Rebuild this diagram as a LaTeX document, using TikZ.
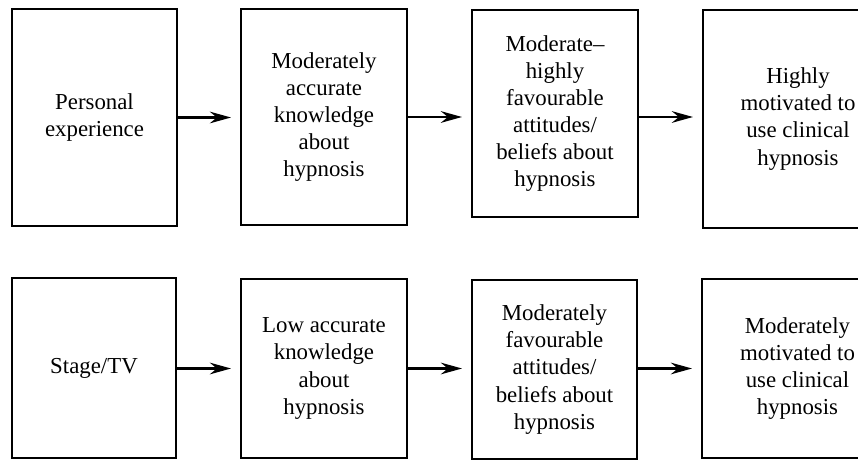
\documentclass[tikz,border=0pt]{standalone}
\usepackage{fontspec}
\setmainfont{Liberation Serif}
\usetikzlibrary{arrows.meta}
\tikzset{
  stagebox/.style={draw, line width=1.1pt, inner sep=0pt, align=center,
    font=\fontsize{13}{15.4}\selectfont},
  flow/.style={line width=1.7pt, -{Stealth[length=4.2mm,width=2.3mm]}, shorten >=1.8mm}
}
\begin{document}
\begin{tikzpicture}[scale=1]
\clip (0,0) rectangle (17.16,9.2);
% personal experience route
\node[stagebox, minimum width=3.30cm, minimum height=4.34cm] at (1.89, 6.85) (p1) {Personal\\experience};
\node[stagebox, minimum width=3.32cm, minimum height=4.32cm] at (6.48, 6.86) (p2) {Moderately\\accurate\\knowledge\\about\\hypnosis};
\node[stagebox, minimum width=3.32cm, minimum height=4.14cm] at (11.10, 6.93) (p3) {Moderate--\\highly\\favourable\\attitudes/\\beliefs about\\hypnosis};
\node[stagebox, minimum width=3.80cm, minimum height=4.36cm] at (15.96, 6.82) (p4) {Highly\\motivated to\\use clinical\\hypnosis};
% stage/TV route
\node[stagebox, minimum width=3.28cm, minimum height=3.60cm] at (1.88, 1.84) (s1) {Stage/TV};
\node[stagebox, minimum width=3.32cm, minimum height=3.58cm] at (6.48, 1.83) (s2) {Low accurate\\knowledge\\about\\hypnosis};
\node[stagebox, minimum width=3.30cm, minimum height=3.58cm] at (11.09, 1.81) (s3) {Moderately\\favourable\\attitudes/\\beliefs about\\hypnosis};
\node[stagebox, minimum width=3.82cm, minimum height=3.58cm] at (15.95, 1.83) (s4) {Moderately\\motivated to\\use clinical\\hypnosis};
\draw[flow] (p1.east) -- (p1.east -| p2.west);
\draw[flow] (p2.east) -- (p2.east -| p3.west);
\draw[flow] (p3.east |- p2.east) -- (p2.east -| p4.west);
\draw[flow] (s1.east |- s2.east) -- (s2.east -| s2.west);
\draw[flow] (s2.east) -- (s2.east -| s3.west);
\draw[flow] (s3.east |- s2.east) -- (s2.east -| s4.west);
\end{tikzpicture}
\end{document}
